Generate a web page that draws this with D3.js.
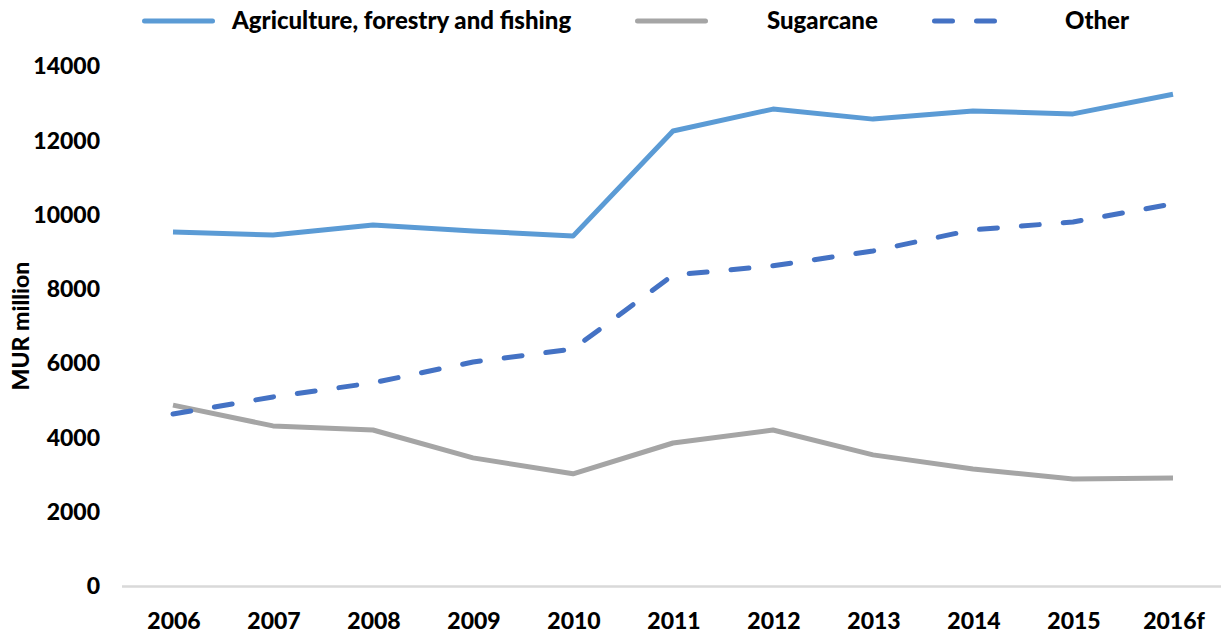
<!DOCTYPE html>
<html>
<head>
<meta charset="utf-8">
<script src="https://cdn.jsdelivr.net/npm/d3@7"></script>
<style>
  body { margin: 0; background: #fff; }
  svg text { font-family: Lato, "Open Sans", sans-serif; font-weight: 900; fill: #000; }
</style>
</head>
<body>
<svg id="chart" width="1221" height="639"></svg>
<script>
const years = ["2006", "2007", "2008", "2009", "2010", "2011", "2012", "2013", "2014", "2015", "2016f"];
const agriculture = [9530, 9450, 9720, 9560, 9420, 12250, 12840, 12570, 12790, 12710, 13240];
const sugarcane = [4870, 4310, 4200, 3450, 3020, 3850, 4200, 3530, 3150, 2880, 2910];
const other = [4630, 5090, 5470, 6030, 6380, 8370, 8620, 9020, 9590, 9800, 10290];
const yTicks = [0, 2000, 4000, 6000, 8000, 10000, 12000, 14000];

const series = [
  { name: "Agriculture, forestry and fishing", values: agriculture, color: "#5b9bd5", dash: null },
  { name: "Sugarcane", values: sugarcane, color: "#a5a5a5", dash: null },
  { name: "Other", values: other, color: "#4472c4", dash: "18,24" }
];

const svg = d3.select("#chart");

const x = d3.scalePoint().domain(years).range([173, 1173]);
const y = d3.scaleLinear().domain([0, 14000]).range([586, 66]);

// x axis line
svg.append("line")
  .attr("x1", 122).attr("x2", 1221)
  .attr("y1", y(0) + 0.5).attr("y2", y(0) + 0.5)
  .attr("stroke", "#d9d9d9").attr("stroke-width", 2.5);

// y tick labels
svg.selectAll(".ytick")
  .data(yTicks)
  .enter().append("text")
  .attr("class", "ytick")
  .attr("x", 100)
  .attr("y", d => y(d))
  .attr("dy", "0.36em")
  .attr("text-anchor", "end")
  .attr("font-size", 23)
  .text(d => d);

// x tick labels
svg.selectAll(".xtick")
  .data(years)
  .enter().append("text")
  .attr("class", "xtick")
  .attr("x", d => x(d) + 1)
  .attr("y", 629)
  .attr("text-anchor", "middle")
  .attr("font-size", 23)
  .text(d => d);

// y axis title
svg.append("text")
  .attr("transform", "translate(29,326) rotate(-90)")
  .attr("text-anchor", "middle")
  .attr("font-size", 23)
  .text("MUR million");

const line = d3.line()
  .x((d, i) => x(years[i]))
  .y(d => y(d));

series.forEach(s => {
  svg.append("path")
    .attr("d", line(s.values))
    .attr("fill", "none")
    .attr("stroke", s.color)
    .attr("stroke-width", 5)
    .attr("stroke-linejoin", "round")
    .attr("stroke-linecap", s.dash ? "round" : "butt")
    .attr("stroke-dasharray", s.dash);
});

// legend
const legendPos = [
  { lx: 142, tx: 232 },
  { lx: 635, tx: 767 },
  { lx: 932, tx: 1065 }
];
series.forEach((s, i) => {
  const p = legendPos[i];
  svg.append("line")
    .attr("x1", p.lx + 2.5).attr("x2", p.lx + 70.5)
    .attr("y1", 21).attr("y2", 21)
    .attr("stroke", s.color)
    .attr("stroke-width", 5)
    .attr("stroke-linecap", "round")
    .attr("stroke-dasharray", s.dash ? "18,24" : null);
  svg.append("text")
    .attr("x", p.tx)
    .attr("y", 28.5)
    .attr("font-size", 24)
    .text(s.name);
});
</script>
</body>
</html>
